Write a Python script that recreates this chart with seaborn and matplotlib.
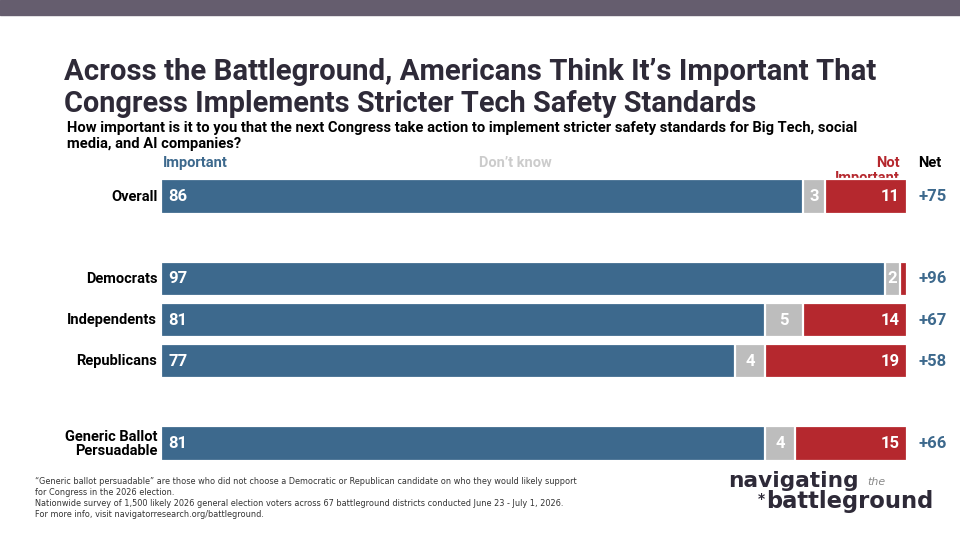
import matplotlib
matplotlib.use("Agg")
import matplotlib.pyplot as plt
from matplotlib import font_manager
import seaborn as sns
import pandas as pd

# ---- data ----
groups = ["Overall", "Democrats", "Independents", "Republicans", "Generic Ballot\nPersuadable"]
important = [86, 97, 81, 77, 81]
dont_know = [3, 2, 5, 4, 4]
not_important = [11, 1, 14, 19, 15]
net = ["+75", "+96", "+67", "+58", "+66"]
row_order = ["Overall", " ", "Democrats", "Independents", "Republicans", "  ", "Generic Ballot\nPersuadable"]

title_lines = ["Across the Battleground, Americans Think It\u2019s Important That",
               "Congress Implements Stricter Tech Safety Standards"]
subtitle_lines = ["How important is it to you that the next Congress take action to implement stricter safety standards for Big Tech, social",
                  "media, and AI companies?"]
footnote = ("\u201cGeneric ballot persuadable\u201d are those who did not choose a Democratic or Republican candidate on who they would likely support\n"
            "for Congress in the 2026 election.\n"
            "Nationwide survey of 1,500 likely 2026 general election voters across 67 battleground districts conducted June 23 - July 1, 2026.\n"
            "For more info, visit navigatorresearch.org/battleground.")

BLUE = "#3d698d"
GRAY = "#bdbdbd"
RED = "#b5282e"
DARK = "#2e2a38"

names = {f.name for f in font_manager.fontManager.ttflist}
COND = "Liberation Sans Narrow" if "Liberation Sans Narrow" in names else "Roboto"
LOGO = "DejaVu Sans"

sns.set_theme(style="white")
plt.rcParams["font.family"] = [COND, "DejaVu Sans"]

df = pd.DataFrame({"group": groups, "imp": important, "dk": dont_know, "ni": not_important})
df["cum_dk"] = df["imp"] + df["dk"]
df["total"] = df["cum_dk"] + df["ni"]

W, H = 960, 540
fig = plt.figure(figsize=(9.6, 5.4), dpi=100)

# axes placement (pixel-based)
x0, x1 = 161, 907
step = 41.17
top_c = 196.5
ytop = top_c - 0.5 * step
ybot = top_c + 6.5 * step
ax = fig.add_axes([x0 / W, 1 - ybot / H, (x1 - x0) / W, (ybot - ytop) / H])

kw = dict(orient="h", order=row_order, width=0.83, edgecolor="white", linewidth=1.6, ax=ax,
          zorder=3, saturation=1)
sns.barplot(data=df, x="total", y="group", color=RED, **kw)
sns.barplot(data=df, x="cum_dk", y="group", color=GRAY, **kw)
sns.barplot(data=df, x="imp", y="group", color=BLUE, **kw)

ax.set_xlim(0, 100)
ax.set_ylim(6.5, -0.5)
ax.set_xlabel("")
ax.set_ylabel("")
ax.set_xticks([])
ax.set_yticks([])
for s in ax.spines.values():
    s.set_visible(False)

# value labels
for g, i, d, n, nt in zip(groups, important, dont_know, not_important, net):
    y = row_order.index(g)
    ax.text(1.0, y, str(i), color="white", fontsize=12, fontweight="bold", va="center", ha="left", zorder=5)
    ax.text(i + d / 2, y, str(d), color="white", fontsize=12, fontweight="bold", va="center", ha="center", zorder=5)
    if n >= 3:
        ax.text(i + d + n - 1.0, y, str(n), color="white", fontsize=12, fontweight="bold", va="center", ha="right", zorder=5)
    ax.text(101.5, y, nt, color=BLUE, fontsize=12, fontweight="bold", va="center", ha="left", zorder=5)
    ax.text(-0.5, y, g, color="black", fontsize=10.5, fontweight="bold", va="center", ha="right",
            linespacing=1.0, zorder=5)

# column headers
hy = -0.82
ax.text(0.3, hy, "Important", color=BLUE, fontsize=10.5, fontweight="bold", va="center", ha="left")
ax.text(47.5, hy, "Don\u2019t know", color="#cccccc", fontsize=10.5, fontweight="bold", va="center", ha="center")
ax.text(99.0, hy, "Not", color=RED, fontsize=10.5, fontweight="bold", va="center", ha="right", zorder=1)
ax.text(99.0, hy + 0.36, "Important", color=RED, fontsize=10.5, fontweight="bold", va="center", ha="right", zorder=1)
ax.text(101.5, hy, "Net", color="black", fontsize=10.5, fontweight="bold", va="center", ha="left")

# top band
fig.patches.append(plt.Rectangle((0, 1 - 15 / H), 1, 15 / H, transform=fig.transFigure,
                                 color="#655d6e", zorder=0))

# title & subtitle, fitted to reference widths
fig.canvas.draw()
renderer = fig.canvas.get_renderer()

def fitted(x, y, txt, target_w, size, **kws):
    t = fig.text(x / W, 1 - y / H, txt, fontsize=size, **kws)
    w = t.get_window_extent(renderer).width
    t.set_fontsize(size * target_w / w)
    return t

fitted(64, 80, title_lines[0], 812, 22, fontweight="bold", color=DARK, va="baseline", ha="left")
fitted(64, 112, title_lines[1], 690, 22, fontweight="bold", color=DARK, va="baseline", ha="left")
sub = fitted(67, 132, subtitle_lines[0], 795, 10.5, fontweight="bold", color="black", va="baseline", ha="left")
fig.text(67 / W, 1 - 148 / H, subtitle_lines[1], fontsize=sub.get_fontsize(),
         fontweight="bold", color="black", va="baseline", ha="left")

# footnote
fig.text(35 / W, 1 - 477 / H, footnote, fontsize=5.85, color="#333333", va="top", ha="left",
         linespacing=1.3, family="DejaVu Sans")

# logo
fitted(728, 487, "navigating", 130, 16, fontweight="bold", color=DARK, family=LOGO, va="baseline", ha="left")
fitted(867, 485, "the", 18, 7, fontstyle="italic", color="#8a8a8a", family=LOGO, va="baseline", ha="left")
fig.text(758 / W, 1 - 503 / H, "*", fontsize=10, fontweight="bold", color=DARK,
         family=LOGO, va="baseline", ha="left")
fitted(766, 508, "battleground", 168, 16, fontweight="bold", color=DARK, family=LOGO, va="baseline", ha="left")

fig.savefig("out.png", dpi=100)
